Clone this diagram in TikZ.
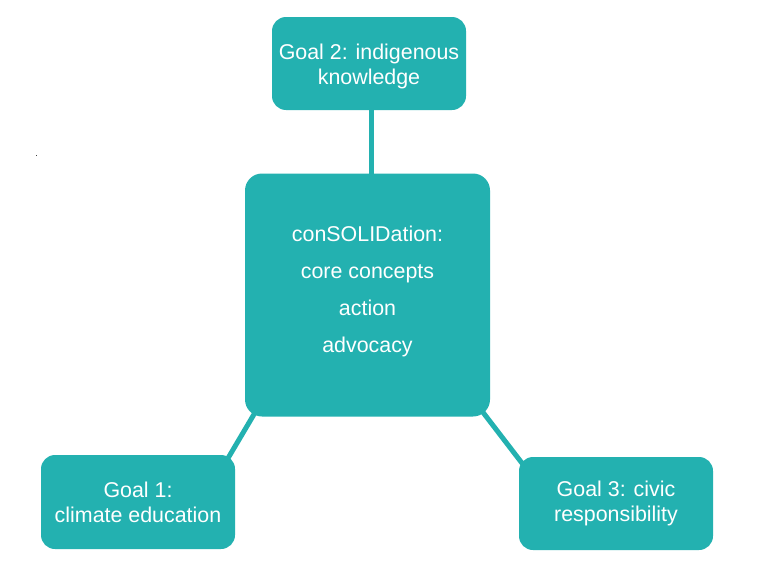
\documentclass[tikz,border=0pt]{standalone}
\usepackage{fontspec}
\setmainfont{Liberation Sans}
\definecolor{teal1}{RGB}{35,177,176}
\tikzset{
  goalbox/.style={fill=teal1, draw=none, rounded corners=14pt, text=white, align=center,
    minimum width=194pt, minimum height=93pt, inner sep=0pt,
    font=\fontsize{21.4}{25}\selectfont},
  corebox/.style={fill=teal1, draw=none, rounded corners=17pt, text=white, align=center,
    minimum width=245pt, minimum height=243pt, inner sep=0pt,
    font=\fontsize{21.4}{37}\selectfont},
  link/.style={draw=teal1, line width=5pt}
}
\begin{document}
\begin{tikzpicture}[x=1pt,y=-1pt]
\useasboundingbox (0,0) rectangle (759,570);
\node[goalbox] (g2) at (369,63.5) {\raisebox{-3pt}[\height][\depth]{\begin{tabular}{@{}c@{}}Goal 2: indigenous\\knowledge\end{tabular}}};
\node[corebox] (c) at (367.5,295) {\raisebox{5pt}[\height][\depth]{\begin{tabular}{@{}c@{}}conSOLIDation:\\core concepts\\action\\advocacy\end{tabular}}};
\node[goalbox, minimum height=94pt] (g1) at (138,502) {Goal 1:\\climate education};
\node[goalbox] (g3) at (616,503.5) {Goal 3: civic\\responsibility};
\draw[link] ([xshift=2.5pt,yshift=3pt]g2.south) -- ([xshift=4pt,yshift=-3pt]c.north);
\draw[link] ([xshift=12.5pt,yshift=8pt]c.south west) -- ([xshift=-10.5pt,yshift=-9pt]g1.north east);
\draw[link] ([xshift=-10pt,yshift=8pt]c.south east) -- ([xshift=6pt,yshift=-10pt]g3.north west);
\fill[black!75] (35.5,154.5) rectangle (37,156);
\end{tikzpicture}
\end{document}
